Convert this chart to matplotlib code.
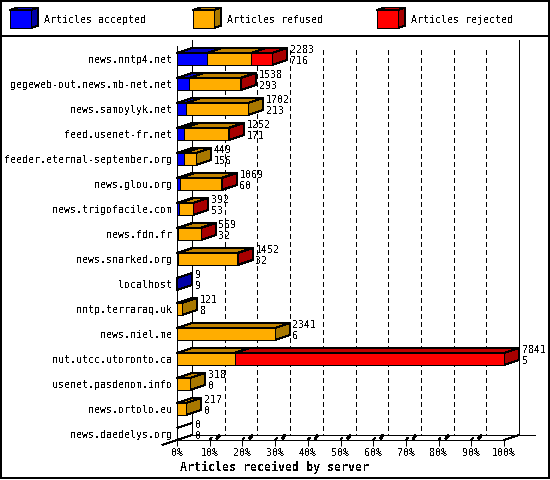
import matplotlib
matplotlib.use("Agg")
import matplotlib.pyplot as plt
from matplotlib.patches import Polygon, Rectangle

servers = ["news.nntp4.net", "gegeweb-out.news.mb-net.net", "news.samoylyk.net",
           "feed.usenet-fr.net", "feeder.eternal-september.org", "news.glou.org",
           "news.trigofacile.com", "news.fdn.fr", "news.snarked.org", "localhost",
           "nntp.terraraq.uk", "news.niel.me", "nut.utcc.utoronto.ca",
           "usenet.pasdenom.info", "news.ortolo.eu", "news.daedelys.org"]
received = [2283, 1538, 1702, 1252, 449, 1069, 392, 569, 1452, 9, 121, 2341, 7841, 318, 217, 0]
accepted = [716, 293, 213, 171, 156, 60, 53, 32, 32, 9, 8, 6, 5, 0, 0, 0]
rejected = [512, 20, 0, 25, 0, 10, 5, 5, 10, 0, 0, 0, 6461, 0, 0, 0]
refused = [r - a - j for r, a, j in zip(received, accepted, rejected)]
series_names = ["Articles accepted", "Articles refused", "Articles rejected"]
series_values = [accepted, refused, rejected]
front_colors = ["#0000FF", "#FFAD00", "#FF0000"]
top_colors = ["#0000C0", "#C08200", "#C00000"]
side_colors = ["#0000A8", "#A87800", "#A80000"]
percent_ticks = list(range(0, 101, 10))
xlabel_text = "Articles received by server"

W, H = 550, 480
plt.rcParams["text.antialiased"] = False
plt.rcParams["lines.scale_dashes"] = False
plt.rcParams["font.family"] = "DejaVu Sans Mono"
fig = plt.figure(figsize=(W / 100, H / 100), dpi=100, facecolor="white")
PT = 0.72  # points per pixel
FS = 7.2
LW = 1.0 * PT

# Overlay in figure pixels, for the frame and the legend
pix = fig.add_axes([0, 0, 1, 1], zorder=3)
pix.set_xlim(0, W)
pix.set_ylim(H, 0)
pix.axis("off")
pix.patch.set_alpha(0)

L, R, T, B = 177, 504, 46, 440
ax = fig.add_axes([L / W, 1 - B / H, (R - L) / W, (B - T) / H], zorder=2)
ax.patch.set_alpha(0)
vmax = max(received)
ROW_PX = 25
ax.set_xlim(0, vmax)
ax.set_ylim((B - 59) / ROW_PX, (T - 59) / ROW_PX)
PX = vmax / (R - L)          # articles per pixel
DX = 15 * PX                 # depth in x
DY = 5 / ROW_PX              # depth in y
HH = 6 / ROW_PX              # half bar height

for s in ("top", "right"):
    ax.spines[s].set_visible(False)
for s in ("left", "bottom"):
    ax.spines[s].set_linewidth(LW)
    ax.spines[s].set_antialiased(False)

ax.set_xticks([vmax * p / 100 for p in percent_ticks], [f"{p}%" for p in percent_ticks])
ax.set_yticks(range(len(servers)), servers)
ax.tick_params(axis="x", length=6 * PT, width=LW, pad=2 * PT, labelsize=FS)
ax.tick_params(axis="y", length=0, pad=5 * PT, labelsize=FS)

ytop_wall = (T - 6 - 59) / ROW_PX
yfloor = ax.get_ylim()[0] - DY
grid_top = (50 - 59) / ROW_PX

def line(xs, ys, z=1, lw=LW, **kw):
    ax.plot(xs, ys, color="black", lw=lw, clip_on=False, antialiased=False,
            solid_capstyle="butt", zorder=z, **kw)

# Back walls, floor and grid
line([DX, DX], [ytop_wall, yfloor])
line([vmax + DX, vmax + DX], [ytop_wall, yfloor])
line([DX, vmax + DX + 16 * PX], [yfloor, yfloor])
y0 = ax.get_ylim()[0]
line([-DX, DX], [y0 + DY, yfloor])
line([vmax, vmax + DX], [y0, yfloor])
for p in percent_ticks[1:-1]:
    xv = vmax * p / 100
    line([xv + DX, xv + DX], [grid_top, yfloor], lw=1.0 * PT, linestyle=(0, (5 * PT, 3 * PT)))
    line([xv + 7 * PX, xv + 10 * PX], [y0 - 0.2 * DY, y0 - 1.0 * DY], lw=2.0 * PT)
    line([xv, xv + 2 * PX], [y0, y0 - 0.5 * DY])

# Bars
def poly(pts, color, z):
    ax.add_patch(Polygon(pts, closed=True, facecolor=color, edgecolor="black",
                         linewidth=LW, clip_on=False, antialiased=False, zorder=z))

for i in range(len(servers)):
    y_t, y_b = i - HH, i + HH
    start = 0
    last = None
    for k, vals in enumerate(series_values):
        v = vals[i]
        if v <= 0:
            continue
        end = start + v
        poly([(start, y_t), (end, y_t), (end + DX, y_t - DY), (start + DX, y_t - DY)], top_colors[k], 3)
        poly([(start, y_t), (end, y_t), (end, y_b), (start, y_b)], front_colors[k], 4)
        start = end
        last = k
    if last is None:
        line([0, DX], [y_t, y_t - DY], z=3)
        line([0, DX], [y_b, y_b - DY], z=3)
    else:
        poly([(start, y_t), (start + DX, y_t - DY), (start + DX, y_b - DY), (start, y_b)], side_colors[last], 3)
    xlab = received[i] + DX + 3 * PX
    ax.text(xlab, i - 9 / ROW_PX, str(received[i]), fontsize=FS, va="center", ha="left", zorder=6, clip_on=False)
    ax.text(xlab, i + 2 / ROW_PX, str(accepted[i]), fontsize=FS, va="center", ha="left", zorder=6, clip_on=False)

# Frame
pix.add_patch(Rectangle((0.5, 0.5), W - 1.5, H - 2.5, fill=False, edgecolor="black",
                        linewidth=1.5 * PT, antialiased=False, clip_on=False))
pix.plot([0, W], [35.5, 35.5], color="black", lw=1.5 * PT, antialiased=False)

# Legend
for k, (name, lx) in enumerate(zip(series_names, [10, 193, 377])):
    x2, yt, yb, dx, dy = lx + 21, 10, 28, 7, 2.5
    kw = dict(closed=True, edgecolor="black", linewidth=LW, antialiased=False)
    pix.add_patch(Polygon([(lx, yt), (x2, yt), (x2 + dx, yt - dy), (lx + dx, yt - dy)], facecolor=top_colors[k], **kw))
    pix.add_patch(Polygon([(x2, yt), (x2 + dx, yt - dy), (x2 + dx, yb - dy), (x2, yb)], facecolor=side_colors[k], **kw))
    pix.add_patch(Rectangle((lx, yt), 21, yb - yt, facecolor=front_colors[k], edgecolor="black",
                            linewidth=LW, antialiased=False))
    pix.text(lx + 34, 20, name, fontsize=FS, va="center", ha="left")

pix.text(180, 467, xlabel_text, fontsize=8.4, fontweight="bold", va="center", ha="left")

fig.savefig("out.png", dpi=100, facecolor="white")
